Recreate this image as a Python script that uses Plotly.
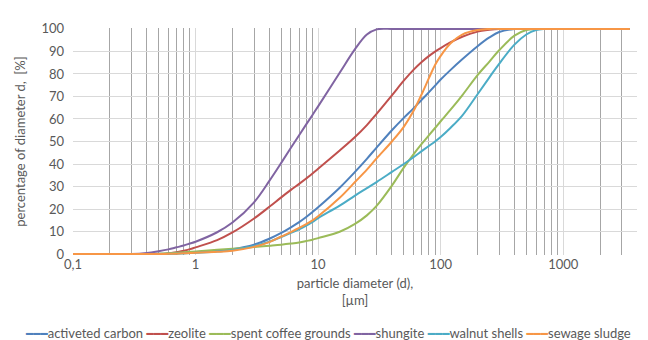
import plotly.graph_objects as go

# particle diameter [µm] sample points
diameter = [0.1, 0.2, 0.3, 0.4, 0.5, 0.6, 0.7, 0.8, 0.9, 1, 1.5, 2, 3, 4, 5, 6, 7, 8, 9, 10,
            15, 20, 25, 30, 40, 50, 60, 70, 80, 90, 100, 120, 150, 200, 250, 300, 400, 500,
            600, 700, 800, 1000, 2000, 3500]

activated_carbon = [0, 0, 0, 0, 0.1, 0.2, 0.3, 0.5, 0.7, 0.9, 1.5, 2.2, 4.2, 6.8, 9.4, 11.9, 14.2, 16.5, 18.7, 20.8,
                    29.5, 36.5, 42.3, 47.3, 55, 60.5, 64.7, 68.5, 71.8, 74.8, 77.5, 81.7, 86.5, 92.3, 96.2, 98.6, 100, 100,
                    100, 100, 100, 100, 100, 100]
zeolite = [0, 0, 0, 0, 0, 0.3, 0.8, 1.5, 2.2, 3, 6.2, 9.6, 15.8, 21, 25.2, 28.5, 31.2, 33.6, 35.8, 37.9,
           46, 52, 57.3, 62.3, 70.5, 77, 81.8, 85.3, 87.9, 89.9, 91.5, 94, 96.5, 98.8, 99.6, 100, 100, 100,
           100, 100, 100, 100, 100, 100]
spent_coffee = [0, 0, 0, 0, 0.2, 0.4, 0.6, 0.8, 1, 1.2, 1.9, 2.4, 3.1, 3.7, 4.2, 4.7, 5.2, 5.8, 6.4, 7.1,
                9.9, 13.4, 17.2, 21.4, 30.4, 38.4, 44.3, 48.9, 52.7, 56, 59, 64, 70.5, 79.5, 85.5, 90.5, 97, 99.5,
                100, 100, 100, 100, 100, 100]
shungite = [0, 0, 0, 0.5, 1.3, 2.1, 3, 3.8, 4.7, 5.5, 9.7, 14, 23, 32.5, 40.5, 47.2, 52.8, 57.6, 61.8, 65.6,
            80.5, 91, 97.5, 99.8, 100, 100, 100, 100, 100, 100, 100, 100, 100, 100, 100, 100, 100, 100,
            100, 100, 100, 100, 100, 100]
walnut_shells = [0, 0, 0, 0, 0, 0.1, 0.2, 0.3, 0.45, 0.6, 1.1, 1.8, 3.6, 5.5, 7.6, 9.4, 11, 12.6, 14.3, 16,
                 21.5, 26, 29.3, 32, 36.5, 40, 43, 45.7, 48, 50, 52, 56, 61.5, 71, 78.5, 84.5, 93, 97.5,
                 99.5, 100, 100, 100, 100, 100]
sewage_sludge = [0, 0, 0, 0, 0, 0.1, 0.2, 0.35, 0.5, 0.6, 1, 1.5, 3.2, 5.3, 7.8, 9.8, 11.6, 13.3, 15, 16.8,
                 25, 32, 37.5, 42.5, 50, 56.5, 63.5, 71, 78, 84, 88, 93.5, 97.5, 99.5, 100, 100, 100, 100,
                 100, 100, 100, 100, 100, 100]

series_names = ["activeted carbon", "zeolite", "spent coffee grounds", "shungite", "walnut shells", "sewage sludge"]
series_values = [activated_carbon, zeolite, spent_coffee, shungite, walnut_shells, sewage_sludge]
series_colors = ["#4F81BD", "#C0504D", "#9BBB59", "#8064A2", "#4BACC6", "#F79646"]

x_tickvals = [0.1, 1, 10, 100, 1000]
x_ticktext = ["0,1", "1", "10", "100", "1000"]
x_minor_vals = [m * 10 ** e for e in range(-1, 4) for m in range(2, 10) if m * 10 ** e <= 4000]

FONT = "Lato, 'Open Sans', sans-serif"
TXT = "#595959"

fig = go.Figure()
for name, vals, col in zip(series_names, series_values, series_colors):
    fig.add_trace(go.Scatter(x=diameter, y=vals, name=name, mode="lines",
                             line=dict(color=col, width=2, shape="spline", smoothing=1.0),
                             showlegend=False))

legend_text = " ".join(
    f"<span style=\"color:{c};font-family:'DejaVu Sans Mono';font-size:12px\">━━━</span>{n}"
    for n, c in zip(series_names, series_colors)
)
fig.add_annotation(text=legend_text, xref="paper", yref="paper", x=-0.0885, y=-0.343,
                   xanchor="left", yanchor="middle", align="left", showarrow=False,
                   font=dict(family=FONT, size=13, color=TXT))

fig.update_layout(
    width=648, height=340,
    margin=dict(l=62, r=19, t=19, b=93),
    paper_bgcolor="white", plot_bgcolor="white",
    font=dict(family=FONT, size=13, color=TXT),
    xaxis=dict(type="log", range=[-1, 3.60206], tickmode="array", tickvals=x_tickvals,
               ticktext=x_ticktext, showgrid=True, gridcolor="#D9D9D9", gridwidth=1,
               minor=dict(tickmode="array", tickvals=x_minor_vals, showgrid=True,
                          gridcolor="#A6A6A6", gridwidth=1),
               showline=False, zeroline=False, ticks="", ticklabelstandoff=0,
               title=dict(text="particle diameter (d),<br>[µm]", standoff=7,
                          font=dict(size=13, color=TXT))),
    yaxis=dict(range=[-0.4, 100.4], tickmode="array", tickvals=list(range(0, 101, 10)),
               showgrid=True, gridcolor="#D9D9D9", gridwidth=1, zeroline=False,
               showline=False, ticks="", ticklabelstandoff=8,
               title=dict(text="percentage of diameter d,  [%]", standoff=12,
                          font=dict(size=13, color=TXT))),
)

fig.write_html("out.html")
